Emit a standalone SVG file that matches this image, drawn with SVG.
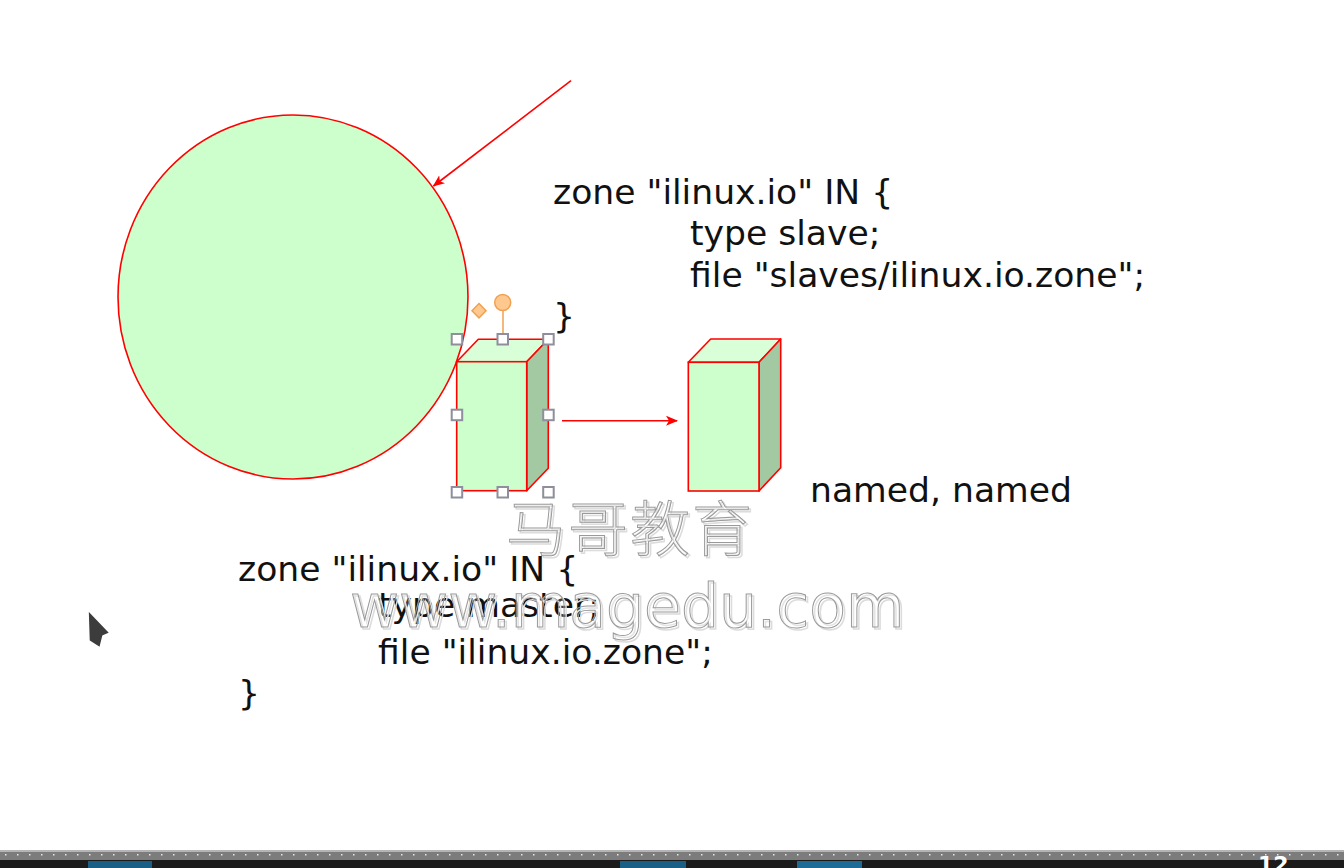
<svg xmlns="http://www.w3.org/2000/svg" width="1344" height="868" viewBox="0 0 1344 868">
  <style>
    .t { font-family: "DejaVu Sans", Verdana, sans-serif; font-size: 34.6px; fill: #111; }
    .front { fill: #ccffcc; stroke: #ff0000; stroke-width: 1.6; }
    .top { fill: #d9ffd9; stroke: #ff0000; stroke-width: 1.6; stroke-linejoin: round; }
    .side { fill: #a3c9a3; stroke: #ff0000; stroke-width: 1.6; stroke-linejoin: round; }
    .conn { stroke: #ff0000; stroke-width: 1.6; fill: none; }
    .handle { fill: #ffffff; stroke: #8e8e9c; stroke-width: 2; }
    .wm { font-family: "DejaVu Sans", sans-serif; font-size: 60px; fill: #ffffff; fill-opacity: 0.2; stroke: #9a9a9a; stroke-width: 1; }
    .wmcjk { font-family: "Noto Sans CJK SC", sans-serif; font-size: 60px; font-weight: 300; fill: #ffffff; fill-opacity: 0.2; stroke: #9a9a9a; stroke-width: 1; }
    .wmsh { fill: none; stroke: #dcdcdc; stroke-width: 1.5; }
  </style>
  <defs>
    <marker id="ah" viewBox="0 0 12 10" refX="11" refY="5" markerWidth="12" markerHeight="10" markerUnits="userSpaceOnUse" orient="auto">
      <path d="M0,0 L12,5 L0,10 L3,5 Z" fill="#ff0000"/>
    </marker>
    <pattern id="dots" x="0" y="850" width="12" height="10" patternUnits="userSpaceOnUse">
      <rect width="12" height="10" fill="#7c7c7c"/>
      <rect x="0" y="0" width="12" height="2" fill="#b4b4b4"/>
      <rect x="5" y="4" width="1.5" height="1.5" fill="#e8e8e8"/>
    </pattern>
  </defs>
  <rect width="1344" height="868" fill="#ffffff"/>

  <g id="circle">
    <ellipse cx="293" cy="297" rx="175" ry="182" fill="#ccffcc" stroke="#ff0000" stroke-width="1.6"/>
  </g>

  <g id="box1">
    <polygon class="top" points="456.7,361.7 478.3,339.3 548.3,339.3 526.7,361.7"/>
    <polygon class="side" points="526.7,361.7 548.3,339.3 548.3,468.3 526.7,490.7"/>
    <rect class="front" x="456.7" y="361.7" width="70" height="129"/>
  </g>

  <g id="box2">
    <polygon class="top" points="688.3,362.3 710.7,339 780.7,339 759,362.3"/>
    <polygon class="side" points="759,362.3 780.7,339 780.7,467.7 759,491"/>
    <rect class="front" x="688.3" y="362.3" width="70.7" height="128.7"/>
  </g>

  <g id="connectors">
    <line class="conn" x1="571" y1="80.7" x2="433.5" y2="186" marker-end="url(#ah)"/>
    <line class="conn" x1="562" y1="420.7" x2="677" y2="420.7" marker-end="url(#ah)"/>
  </g>

  <g id="selection">
    <line x1="503" y1="311" x2="503" y2="334" stroke="#f0a050" stroke-width="1.5"/>
    <circle cx="502.7" cy="302.5" r="8" fill="#ffc88f" stroke="#f0a050" stroke-width="1.5"/>
    <polygon points="479,303.5 486,310.7 479,318 472,310.7" fill="#ffc88f" stroke="#f0a050" stroke-width="1.5"/>
    <rect class="handle" x="451.7" y="334" width="10.5" height="10.5"/>
    <rect class="handle" x="497.5" y="334" width="10.5" height="10.5"/>
    <rect class="handle" x="543.2" y="334" width="10.5" height="10.5"/>
    <rect class="handle" x="451.7" y="409.7" width="10.5" height="10.5"/>
    <rect class="handle" x="543.2" y="409.7" width="10.5" height="10.5"/>
    <rect class="handle" x="451.7" y="487" width="10.5" height="10.5"/>
    <rect class="handle" x="497.5" y="487" width="10.5" height="10.5"/>
    <rect class="handle" x="543.2" y="487" width="10.5" height="10.5"/>
  </g>

  <g id="slave-config">
    <text class="t" x="553" y="204">zone "ilinux.io" IN {</text>
    <text class="t" x="690" y="245">type slave;</text>
    <text class="t" x="690" y="287">file "slaves/ilinux.io.zone";</text>
    <text class="t" x="553" y="328">}</text>
  </g>

  <g id="label-named">
    <text class="t" x="810" y="502">named, named</text>
  </g>

  <g id="master-config">
    <text class="t" x="238" y="581">zone "ilinux.io" IN {</text>
    <text class="t" x="378" y="617">type master;</text>
    <text class="t" x="378" y="664">file "ilinux.io.zone";</text>
    <text class="t" x="238" y="705">}</text>
  </g>

  <g id="watermark">
    <text class="wmcjk wmsh" x="508" y="553" letter-spacing="2">马哥教育</text>
    <text class="wmcjk" x="506" y="551" letter-spacing="2">马哥教育</text>
    <text class="wm wmsh" x="352" y="629">www.magedu.com</text>
    <text class="wm" x="350" y="627">www.magedu.com</text>
  </g>

  <g id="cursor">
    <polygon points="88,610 110,633 103,636 100,648 89,641" fill="#3c3c3c" stroke="#ffffff" stroke-width="1.5" stroke-linejoin="round"/>
  </g>

  <g id="taskbar">
    <rect x="0" y="850" width="1344" height="10" fill="url(#dots)"/>
    <rect x="0" y="860" width="1344" height="8" fill="#1b1b1b"/>
    <rect x="88" y="861" width="64" height="7" fill="#1a5f86"/>
    <rect x="620" y="861" width="66" height="7" fill="#1a5f86"/>
    <rect x="797" y="861" width="65" height="7" fill="#1d6c98"/>
    <text x="1258" y="872" font-family="DejaVu Sans, sans-serif" font-size="22" font-weight="bold" fill="#ffffff">12</text>
  </g>
</svg>
